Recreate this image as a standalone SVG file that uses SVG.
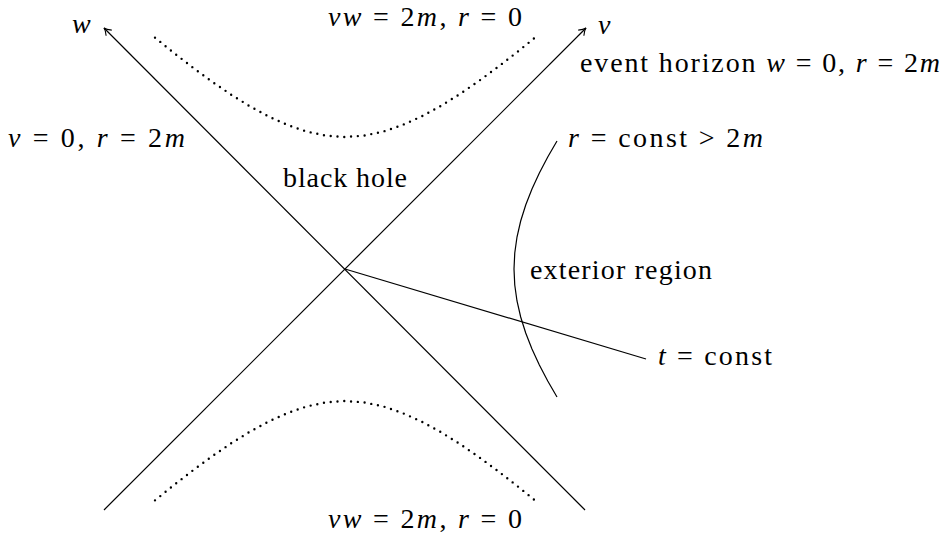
<svg xmlns="http://www.w3.org/2000/svg" width="946" height="537" viewBox="0 0 946 537">
<style>
.ln{fill:none;stroke:#000;stroke-width:1.2}
.dot{fill:none;stroke:#000;stroke-width:2.4;stroke-dasharray:0 6.8;stroke-linecap:round}
text{font-family:'Liberation Serif','Times New Roman',serif;font-size:28px;fill:#000}
.i{font-style:italic}
</style>
<defs>
<marker id="ah" viewBox="-8 -5 10 10" refX="0" refY="0" markerWidth="10" markerHeight="10" markerUnits="userSpaceOnUse" orient="auto">
<path d="M-7,-4 Q-3,-0.5 0,0 Q-3,0.5 -7,4" fill="none" stroke="#000" stroke-width="1.1"/>
</marker>
</defs>
<g id="connectors">
<line class="ln" x1="585" y1="510" x2="104" y2="28" marker-end="url(#ah)"/>
<line class="ln" x1="104" y1="510" x2="586" y2="28" marker-end="url(#ah)"/>
<line class="ln" x1="345" y1="269" x2="646" y2="359"/>
<polyline class="ln" points="557,141 547.74,157 539.36,173 531.98,189 525.71,205 520.68,221 517,237 514.76,253 514,269 514.76,285 517,301 520.68,317 525.71,333 531.98,349 539.36,365 547.74,381 557,397"/>
<polyline class="dot" points="155,37.65 174,52.98 193,67.68 212,81.62 231,94.59 250,106.37 269,116.68 288,125.22 307,131.64 326,135.64 345,137 364,135.64 383,131.64 402,125.22 421,116.68 440,106.37 459,94.59 478,81.62 497,67.68 516,52.98 535,37.65"/>
<polyline class="dot" points="155,500.35 174,485.02 193,470.32 212,456.38 231,443.41 250,431.63 269,421.32 288,412.78 307,406.36 326,402.36 345,401 364,402.36 383,406.36 402,412.78 421,421.32 440,431.63 459,443.41 478,456.38 497,470.32 516,485.02 535,500.35"/>
</g>
<g id="label-w"><text x="72" y="33" class="i">w</text></g>
<g id="label-v"><text x="598" y="34" class="i">v</text></g>
<g id="label-top"><text x="328" y="26" textLength="194" lengthAdjust="spacing"><tspan class="i">vw</tspan> = 2<tspan class="i">m</tspan>, <tspan class="i">r</tspan> = 0</text></g>
<g id="label-horizon"><text x="580" y="72" textLength="360" lengthAdjust="spacing">event horizon <tspan class="i">w</tspan> = 0, <tspan class="i">r</tspan> = 2<tspan class="i">m</tspan></text></g>
<g id="label-v0"><text x="8" y="147" textLength="177" lengthAdjust="spacing"><tspan class="i">v</tspan> = 0, <tspan class="i">r</tspan> = 2<tspan class="i">m</tspan></text></g>
<g id="label-bh"><text x="283" y="187" textLength="124" lengthAdjust="spacing">black hole</text></g>
<g id="label-rconst"><text x="568" y="147" textLength="195" lengthAdjust="spacing"><tspan class="i">r</tspan> = const &gt; 2<tspan class="i">m</tspan></text></g>
<g id="label-ext"><text x="530" y="279" textLength="182" lengthAdjust="spacing">exterior region</text></g>
<g id="label-tconst"><text x="658" y="365" textLength="114" lengthAdjust="spacing"><tspan class="i">t</tspan> = const</text></g>
<g id="label-bottom"><text x="328" y="528" textLength="194" lengthAdjust="spacing"><tspan class="i">vw</tspan> = 2<tspan class="i">m</tspan>, <tspan class="i">r</tspan> = 0</text></g>
</svg>
